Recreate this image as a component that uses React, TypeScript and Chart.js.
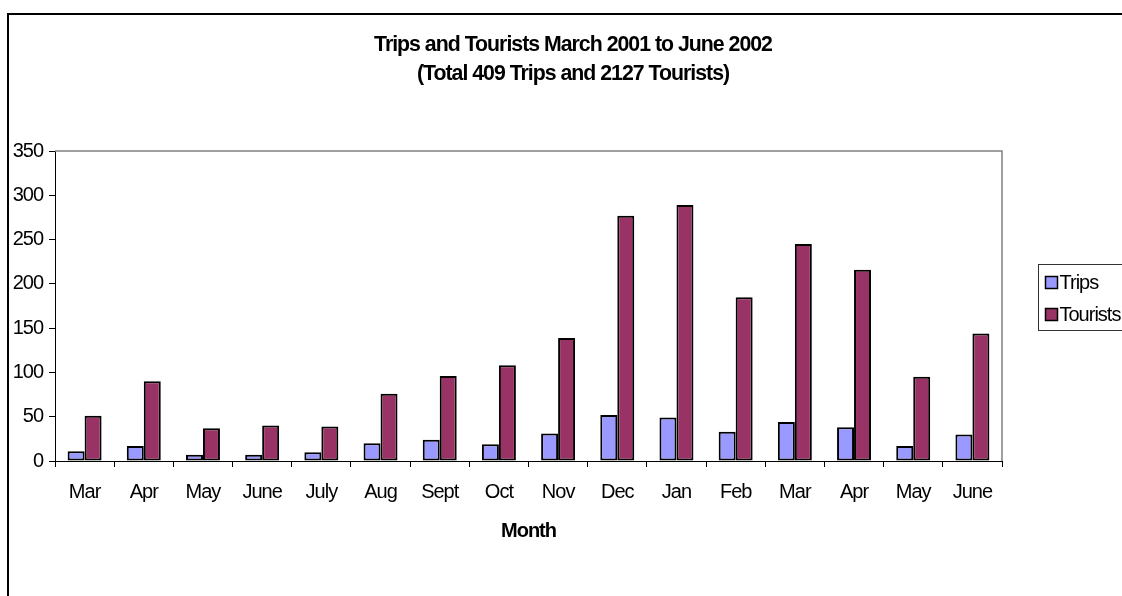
import React, { useEffect, useRef } from 'react';
import { Chart, registerables } from 'chart.js';

Chart.register(...registerables);

const months = ['Mar', 'Apr', 'May', 'June', 'July', 'Aug', 'Sept', 'Oct', 'Nov', 'Dec', 'Jan', 'Feb', 'Mar', 'Apr', 'May', 'June'];
const trips = [11, 17, 7, 7, 10, 20, 24, 19, 31, 52, 49, 33, 44, 38, 17, 30];
const tourists = [51, 90, 37, 40, 39, 76, 96, 108, 139, 277, 289, 185, 245, 216, 95, 144];
const seriesNames = ['Trips', 'Tourists'];
const seriesColors = ['#9999FF', '#993366'];
const titleLines = ['Trips and Tourists March 2001 to June 2002', '(Total 409 Trips and 2127 Tourists)'];
const xTitle = 'Month';
const yMin = 0;
const yMax = 350;
const yStep = 50;

const FONT = '"Liberation Sans", Arial, sans-serif';
const W = 1146;
const H = 596;

const framePlugin = {
  id: 'frame',
  beforeDraw(chart: any) {
    const ctx = chart.ctx;
    ctx.save();
    ctx.fillStyle = '#ffffff';
    ctx.fillRect(0, 0, chart.width, chart.height);
    ctx.strokeStyle = '#000000';
    ctx.lineWidth = 2;
    ctx.strokeRect(8, 14, chart.width - 16, chart.height + 20);
    ctx.restore();
    // condensed text look, like the original rendering
    try {
      (ctx as any).letterSpacing = '-1px';
    } catch (e) {
      /* ignore */
    }
  },
  beforeDatasetsDraw(chart: any) {
    const { ctx, chartArea } = chart;
    ctx.save();
    ctx.strokeStyle = '#808080';
    ctx.lineWidth = 1.5;
    ctx.beginPath();
    ctx.moveTo(chartArea.left, chartArea.top);
    ctx.lineTo(chartArea.right, chartArea.top);
    ctx.lineTo(chartArea.right, chartArea.bottom);
    ctx.stroke();
    ctx.restore();
  },
};

const boxLegendPlugin = {
  id: 'boxLegend',
  afterDraw(chart: any) {
    const ctx = chart.ctx;
    const bx = chart.chartArea.right + 36.5;
    const by = 264.5;
    const bw = 100;
    const bh = 66;
    ctx.save();
    ctx.strokeStyle = '#333333';
    ctx.lineWidth = 1;
    ctx.strokeRect(bx, by, bw, bh);
    chart.data.datasets.forEach((ds: any, i: number) => {
      const cy = 282.5 + i * 32;
      ctx.fillStyle = ds.backgroundColor;
      ctx.fillRect(bx + 7, cy - 6, 12, 12);
      ctx.strokeStyle = '#000000';
      ctx.lineWidth = 1.5;
      ctx.strokeRect(bx + 7, cy - 6, 12, 12);
      ctx.fillStyle = '#000000';
      ctx.font = `20px ${FONT}`;
      ctx.textBaseline = 'middle';
      ctx.textAlign = 'left';
      ctx.fillText(ds.label, bx + 21, cy + 1);
    });
    ctx.restore();
  },
};

export default function App() {
  const ref = useRef<HTMLCanvasElement | null>(null);

  useEffect(() => {
    if (!ref.current) return;
    const chart = new Chart(ref.current, {
      type: 'bar',
      data: {
        labels: months,
        datasets: [
          {
            label: seriesNames[0],
            data: trips,
            backgroundColor: seriesColors[0],
            borderColor: '#000000',
            borderWidth: 2,
            borderSkipped: false,
            categoryPercentage: 0.574,
            barPercentage: 1,
          },
          {
            label: seriesNames[1],
            data: tourists,
            backgroundColor: seriesColors[1],
            borderColor: '#000000',
            borderWidth: 2,
            borderSkipped: false,
            categoryPercentage: 0.574,
            barPercentage: 1,
          },
        ],
      },
      options: {
        responsive: false,
        animation: false,
        devicePixelRatio: 1,
        layout: { padding: 0 },
        plugins: {
          legend: { display: false },
          tooltip: { enabled: false },
          title: {
            display: true,
            text: titleLines,
            color: '#000000',
            font: { family: FONT, size: 21.3, weight: 'bold', lineHeight: 1.362 },
            padding: { top: 30.5, bottom: 62.5 },
          },
        },
        scales: {
          x: {
            type: 'category',
            offset: true,
            grid: {
              display: true,
              offset: true,
              drawOnChartArea: false,
              drawTicks: true,
              tickLength: 6,
              color: '#000000',
            },
            border: { display: true, color: '#000000', width: 1 },
            ticks: {
              color: '#000000',
              font: { family: FONT, size: 20 },
              padding: 13,
              autoSkip: false,
              maxRotation: 0,
            },
            title: {
              display: true,
              text: xTitle,
              color: '#000000',
              font: { family: FONT, size: 20, weight: 'bold' },
              padding: { top: 0, bottom: 53 },
            },
            afterFit: (s: any) => {
              s.height = 135;
            },
          },
          y: {
            min: yMin,
            max: yMax,
            ticks: {
              stepSize: yStep,
              color: '#000000',
              font: { family: FONT, size: 20 },
              padding: 6,
            },
            grid: {
              drawOnChartArea: false,
              drawTicks: true,
              tickLength: 6,
              color: '#000000',
            },
            border: { display: true, color: '#000000', width: 1 },
            afterFit: (s: any) => {
              s.width = 55;
            },
          },
          y2: {
            position: 'right',
            display: true,
            grid: { display: false },
            ticks: { display: false },
            border: { display: false },
            afterFit: (s: any) => {
              s.width = W - 1002;
            },
          },
        },
      },
      plugins: [framePlugin, boxLegendPlugin],
    } as any);
    return () => chart.destroy();
  }, []);

  return (
    <div
      style={{
        position: 'fixed',
        left: 0,
        top: 0,
        width: 1122,
        height: 596,
        overflow: 'hidden',
        background: '#ffffff',
      }}
    >
      <canvas ref={ref} width={W} height={H} style={{ width: W, height: H, display: 'block' }} />
    </div>
  );
}
